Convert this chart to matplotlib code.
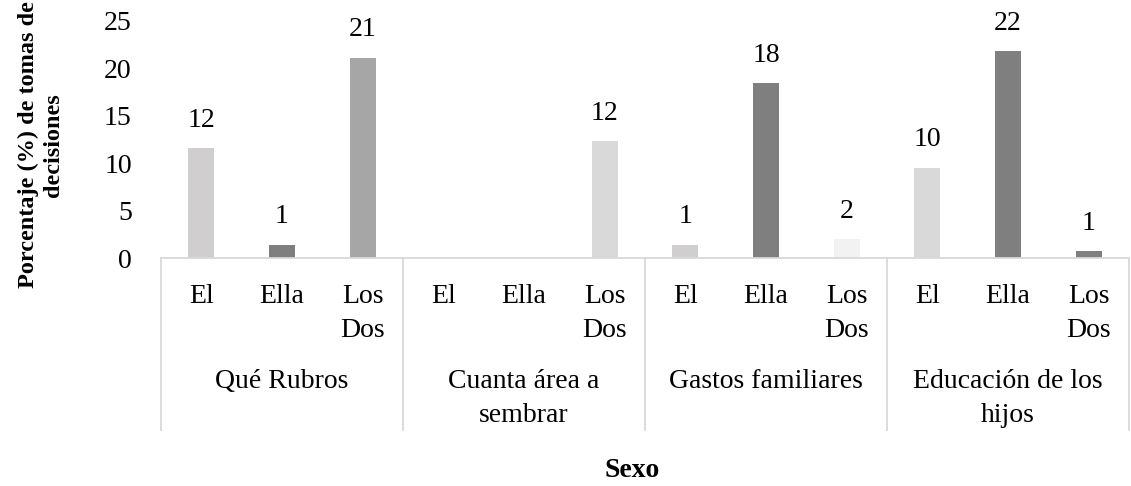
import matplotlib
matplotlib.use("Agg")
import matplotlib.pyplot as plt
from matplotlib.lines import Line2D

plt.rcParams["font.family"] = ["Liberation Serif", "DejaVu Serif"]

# Decision areas and who decides
groups = ["Qué Rubros", "Cuanta área a\nsembrar", "Gastos familiares", "Educación de los\nhijos"]
members = ["El", "Ella", "Los\nDos"]

# Percentage of decisions (None = no answer)
que_rubros = [11.6, 1.4, 21.1]
cuanta_area = [None, None, 12.3]
gastos_familiares = [1.4, 18.4, 2.0]
educacion_hijos = [9.5, 21.8, 0.7]

bar_colors = [
    ["#d0cece", "#7f7f7f", "#a6a6a6"],
    ["#d0cece", "#7f7f7f", "#d9d9d9"],
    ["#d0cece", "#7f7f7f", "#f2f2f2"],
    ["#d9d9d9", "#7f7f7f", "#7f7f7f"],
]

series = [que_rubros, cuanta_area, gastos_familiares, educacion_hijos]

W, H = 1131, 486
fig = plt.figure(figsize=(W / 100, H / 100), dpi=100)
ax_left, ax_right = 161, 1129
ax_base, ax_top = 258, 20.5
ax = fig.add_axes([ax_left / W, (H - ax_base) / H,
                   (ax_right - ax_left) / W, (ax_base - ax_top) / H])

n_groups = len(groups)
n_members = len(members)
ax.set_xlim(0, n_groups * n_members)
ax.set_ylim(0, 25)

for g, vals in enumerate(series):
    for m, v in enumerate(vals):
        if v is None:
            continue
        x = g * n_members + m + 0.5
        ax.bar(x, v, width=0.32, color=bar_colors[g][m], linewidth=0)
        ax.annotate(f"{v:.0f}", xy=(x, v), xytext=(0, 11), textcoords="offset points",
                    ha="center", va="bottom", fontsize=20, color="#000000")

for s in ["top", "right", "left"]:
    ax.spines[s].set_visible(False)
ax.spines["bottom"].set_color("#d9d9d9")
ax.spines["bottom"].set_linewidth(1.3)

ax.set_yticks([0, 5, 10, 15, 20, 25])
ax.tick_params(axis="y", length=0, pad=21, labelsize=20)
ax.set_xticks([])

px = 72 / 100  # points per pixel


def put_lines(x, text, first_px, step_px):
    for i, line in enumerate(text.split("\n")):
        ax.annotate(line, xy=(x, 0), xycoords=("data", "axes fraction"),
                    xytext=(0, -(first_px + i * step_px) * px), textcoords="offset points",
                    ha="center", va="baseline", fontsize=20, annotation_clip=False)


for g in range(n_groups):
    for m, name in enumerate(members):
        put_lines(g * n_members + m + 0.5, name, 45, 34)
    put_lines(g * n_members + n_members / 2, groups[g], 130, 34)

# Category axis separators
ax_h = ax_base - ax_top
for g in range(n_groups + 1):
    ax.add_line(Line2D([g * n_members] * 2, [0, -(430 - ax_base) / ax_h],
                       transform=ax.get_xaxis_transform(), color="#d9d9d9",
                       linewidth=1.3, clip_on=False))

fig.text(632 / W, (H - 477) / H, "Sexo", ha="center", va="baseline",
         fontsize=20, fontweight="bold")
fig.text(41 / W, (H - 145) / H, "Porcentaje (%) de tomas de\ndecisiones",
         rotation=90, ha="center", va="center", multialignment="center",
         fontsize=17.5, fontweight="bold", linespacing=1.25)

fig.savefig("out.png", dpi=100)
